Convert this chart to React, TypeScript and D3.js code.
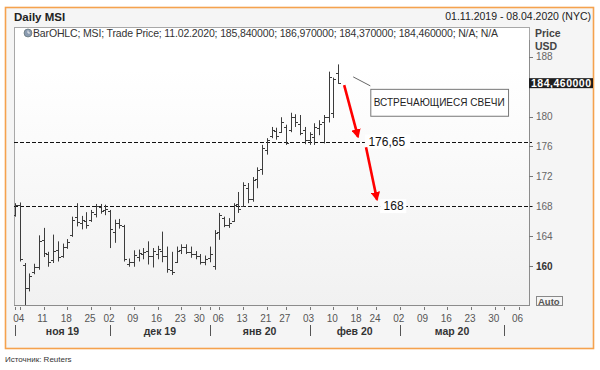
import React from 'react';
import * as d3 from 'd3';

// trading-day index 0 = 01.11.2019, 108 = 08.04.2020
const opens = [
  166.8, 168.2, 160.1, 157.0, 159.2, 159.8, 163.5, 161.6, 160.8, 162.2,
  161.3, 162.5, 164.1, 166.6, 165.7, 166.0, 166.1, 167.0, 167.9, 167.5,
  167.3, 164.6, 165.7, 165.3, 160.3, 160.6, 161.2, 161.6, 162.0, 161.3,
  161.6, 162.0, 161.4, 159.5, 160.5, 162.1, 162.5, 161.9, 161.6, 161.4,
  160.5, 161.1, 160.0, 164.6, 166.4, 165.5, 166.0, 168.3, 168.0, 170.5,
  169.0, 171.6, 173.0, 175.5, 177.4, 178.0, 177.9, 178.6, 178.2, 179.9,
  179.0, 178.2, 176.8, 177.3, 178.5, 179.2, 180.0, 180.5, 185.84,
];
const highs = [
  168.4, 168.5, 160.4, 159.0, 160.3, 164.1, 165.1, 161.9, 164.2, 163.3,
  163.0, 163.6, 166.6, 168.4, 166.7, 167.2, 167.5, 168.3, 168.3, 168.2,
  167.5, 166.2, 166.3, 165.5, 161.0, 162.1, 162.2, 162.4, 163.3, 162.4,
  162.7, 164.6, 162.6, 161.9, 162.6, 162.9, 162.9, 162.6, 162.0, 161.6,
  161.4, 162.6, 164.8, 167.1, 166.6, 166.4, 168.4, 169.9, 171.2, 171.1,
  171.9, 173.2, 176.2, 177.1, 178.6, 178.5, 179.9, 178.9, 180.5, 180.3,
  180.2, 178.6, 177.9, 179.1, 179.5, 180.2, 186.0, 185.2, 186.97,
];
const lows = [
  166.6, 160.6, 154.6, 156.6, 158.9, 159.5, 161.2, 159.9, 160.4, 160.6,
  161.1, 162.3, 163.9, 165.3, 164.9, 165.0, 165.9, 166.5, 167.0, 166.8,
  162.4, 163.1, 165.0, 160.6, 159.9, 159.9, 160.6, 160.9, 160.2, 159.8,
  160.9, 160.5, 159.1, 158.8, 160.4, 161.6, 161.6, 161.1, 160.9, 160.2,
  160.1, 160.5, 159.5, 163.5, 165.2, 165.1, 165.9, 167.1, 167.9, 168.4,
  168.6, 170.4, 172.2, 174.9, 177.1, 176.9, 177.8, 176.2, 177.9, 178.6,
  177.5, 176.3, 176.2, 176.2, 177.5, 176.4, 179.2, 179.8, 184.37,
];
const closes = [
  168.1, 160.9, 157.0, 158.7, 159.9, 163.3, 161.8, 160.6, 162.0, 161.2,
  162.5, 163.2, 166.2, 165.9, 166.2, 165.5, 167.2, 168.0, 167.4, 167.6,
  164.9, 165.8, 165.5, 161.0, 160.6, 161.5, 161.8, 161.9, 161.4, 162.0,
  162.3, 161.3, 159.6, 159.2, 162.0, 162.6, 161.9, 161.6, 161.4, 160.5,
  161.0, 161.6, 164.4, 166.8, 165.5, 165.8, 168.2, 167.6, 170.8, 168.9,
  171.5, 172.8, 175.8, 176.8, 178.2, 177.4, 179.2, 176.5, 179.9, 179.3,
  177.8, 176.8, 177.6, 178.6, 179.0, 180.0, 185.3, 185.0, 184.46,
];

const weekTicks = [1, 6, 11, 16, 20, 25, 30, 35, 39, 43, 48, 53, 57, 62, 67, 72, 76, 81, 86, 91, 96, 101, 106];
const weekLabels = ['04', '11', '18', '25', '02', '09', '16', '23', '30', '06', '13', '21', '27', '03', '10', '18', '24', '02', '09', '16', '23', '30', '06'];
const monthStarts = [0, 20, 41, 62, 81, 103];
const monthLabels = ['ноя 19', 'дек 19', 'янв 20', 'фев 20', 'мар 20'];
const priceTicks = [160, 164, 168, 172, 176, 180, 184, 188];

const levels = [176.65, 168];
const levelLabels = ['176,65', '168'];
const levelLabelIdx = [74.4, 77.6];
const lastPrice = 184.46;

// arrows: [startIdx, startPrice, endIdx, endPrice]
const arrows = [
  [69.3, 184.2, 72.2, 177.3],
  [73.9, 175.9, 76.2, 168.9],
];

const FONT = 'Liberation Sans, Arial, sans-serif';

const App = () => {
  const x = d3.scaleLinear().domain([0, 108]).range([15, 528]);
  const y = d3.scaleLinear().domain([160, 188]).range([266, 56.7]);

  const left = 14;
  const right = 529;
  const top = 27;
  const bottom = 305;

  const bars = d3.range(closes.length);
  const allTicks = Array.from(new Set([...weekTicks, ...monthStarts]));

  return (
    <div style={{ position: 'absolute', left: 0, top: 0 }}>
      <svg width={600} height={370} style={{ display: 'block', fontFamily: FONT }}>
        <defs>
          <linearGradient id="panelBg" x1="0" y1="0" x2="0" y2="1">
            <stop offset="0" stopColor="#ffffff" />
            <stop offset="0.15" stopColor="#ffffff" />
            <stop offset="1" stopColor="#f1f1f1" />
          </linearGradient>
          <clipPath id="plotClip">
            <rect x={left} y={top} width={right - left} height={bottom - top} />
          </clipPath>
          <marker id="arrowHead" viewBox="0 0 10 10" refX="8" refY="5" markerWidth="3.6" markerHeight="3.6" orient="auto">
            <path d="M0,0 L10,5 L0,10 z" fill="#ff0000" />
          </marker>
        </defs>

        <rect x={0} y={0} width={600} height={370} fill="#ffffff" />
        {/* outer frame */}
        <rect x={5.5} y={7.5} width={588} height={341} fill="#f5f5f5" stroke="#f5a24e" strokeWidth={1.6} />

        <text x={14} y={21} fontSize={11.5} fontWeight="bold" fill="#222">Daily MSI</text>
        <text x={591} y={20} fontSize={10.5} fill="#222" textAnchor="end">01.11.2019 - 08.04.2020 (NYC)</text>

        {/* panel */}
        <rect x={left + 0.5} y={top + 0.5} width={right - left} height={bottom - top} fill="url(#panelBg)" stroke="#a8a8a8" />

        <circle cx={28} cy={33} r={4} fill="#8a9bb0" stroke="#566" strokeWidth={0.6} />
        <path d="M28,30.5 L28,33 L30,33" stroke="#fff" strokeWidth={0.8} fill="none" />
        <text x={33} y={37} fontSize={10.5} fill="#333" textLength={465} lengthAdjust="spacing">
          BarOHLC; MSI; Trade Price; 11.02.2020; 185,840000; 186,970000; 184,370000; 184,460000; N/A; N/A
        </text>

        <text x={535} y={37} fontSize={10.5} fontWeight="bold" fill="#444">Price</text>
        <text x={535} y={50} fontSize={10.5} fontWeight="bold" fill="#444">USD</text>

        {/* y axis */}
        <line x1={right + 0.5} x2={right + 0.5} y1={top + 13} y2={bottom} stroke="#8c8c8c" />
        {priceTicks.map((p) => (
          <g key={p}>
            <line x1={right} x2={right + 4} y1={Math.round(y(p)) + 0.5} y2={Math.round(y(p)) + 0.5} stroke="#777" />
            {Math.abs(p - lastPrice) > 2 && (
              <text x={536} y={y(p) + 3.5} fontSize={10} fill={p === 160 ? '#333' : '#666'} fontWeight={p === 160 ? 'bold' : 'normal'}>
                {p}
              </text>
            )}
          </g>
        ))}

        {/* level lines */}
        {levels.map((lv) => (
          <line key={lv} x1={left} x2={right + 3} y1={Math.round(y(lv)) + 0.5} y2={Math.round(y(lv)) + 0.5}
            stroke="#111" strokeDasharray="4,2" />
        ))}

        {/* OHLC bars */}
        <g clipPath="url(#plotClip)" stroke="#3c3c3c" strokeWidth={1}>
          {bars.map((i) => {
            const cx = Math.round(x(i)) + 0.5;
            return (
              <g key={i}>
                <line x1={cx} x2={cx} y1={y(highs[i])} y2={y(lows[i])} />
                <line x1={cx - 2.5} x2={cx} y1={Math.round(y(opens[i])) + 0.5} y2={Math.round(y(opens[i])) + 0.5} />
                <line x1={cx} x2={cx + 2.5} y1={Math.round(y(closes[i])) + 0.5} y2={Math.round(y(closes[i])) + 0.5} />
              </g>
            );
          })}
        </g>

        {/* level labels */}
        {levels.map((lv, i) => {
          const lx = x(levelLabelIdx[i]);
          const w = levelLabels[i].length * 6.4 + 7;
          return (
            <g key={'l' + lv}>
              <rect x={lx - 3.5} y={y(lv) - 7} width={w} height={14} fill="#ffffff" />
              <text x={lx} y={y(lv) + 4} fontSize={12} fill="#111">{levelLabels[i]}</text>
            </g>
          );
        })}

        {/* arrows */}
        {arrows.map((a, i) => (
          <line key={'a' + i} x1={x(a[0])} y1={y(a[1])} x2={x(a[2])} y2={y(a[3])}
            stroke="#ff0000" strokeWidth={2.6} markerEnd="url(#arrowHead)" />
        ))}

        {/* annotation box */}
        <line x1={x(71.2)} y1={y(185.3)} x2={x(74.8)} y2={y(184.1)} stroke="#666" />
        <rect x={x(74.8) + 0.5} y={y(183.7) + 0.5} width={x(103.8) - x(74.8)} height={y(180.1) - y(183.7)} fill="#ffffff" stroke="#777" />
        <text x={(x(74.8) + x(103.8)) / 2} y={(y(183.7) + y(180.1)) / 2 + 3.5} fontSize={10} fill="#222" textAnchor="middle">
          ВСТРЕЧАЮЩИЕСЯ СВЕЧИ
        </text>

        {/* last price marker */}
        <rect x={529} y={y(lastPrice) - 5} width={64} height={10} fill="#1e1e1e" />
        <text x={531} y={y(lastPrice) + 4} fontSize={10.5} fontWeight="bold" fill="#ffffff" textLength={60} lengthAdjust="spacing">
          184,460000
        </text>

        {/* Auto box */}
        <rect x={536.5} y={296.5} width={26} height={9} fill="#f5f5f5" stroke="#888" />
        <text x={538} y={304.5} fontSize={9.5} fontWeight="bold" fill="#555">Auto</text>

        {/* x axis */}
        <line x1={left} x2={right + 1} y1={bottom + 0.5} y2={bottom + 0.5} stroke="#8c8c8c" />
        {allTicks.map((t) => (
          <line key={'t' + t} x1={Math.round(x(t)) + 0.5} x2={Math.round(x(t)) + 0.5} y1={bottom + 2} y2={bottom + 5} stroke="#777" />
        ))}
        {weekTicks.map((t, i) => (
          <text key={'w' + t} x={x(t) - 1} y={322} fontSize={10} fill="#555" textAnchor="middle">{weekLabels[i]}</text>
        ))}
        {monthStarts.map((m) => (
          <line key={'m' + m} x1={Math.round(x(m)) + 0.5} x2={Math.round(x(m)) + 0.5} y1={325} y2={336} stroke="#555" />
        ))}
        {monthLabels.map((lbl, i) => (
          <text key={lbl} x={(x(monthStarts[i]) + x(monthStarts[i + 1])) / 2} y={335} fontSize={10.5} fontWeight="bold" fill="#333" textAnchor="middle">
            {lbl}
          </text>
        ))}

        <text x={5} y={362} fontSize={8} fill="#333">Источник: Reuters</text>
      </svg>
    </div>
  );
};

export default App;
